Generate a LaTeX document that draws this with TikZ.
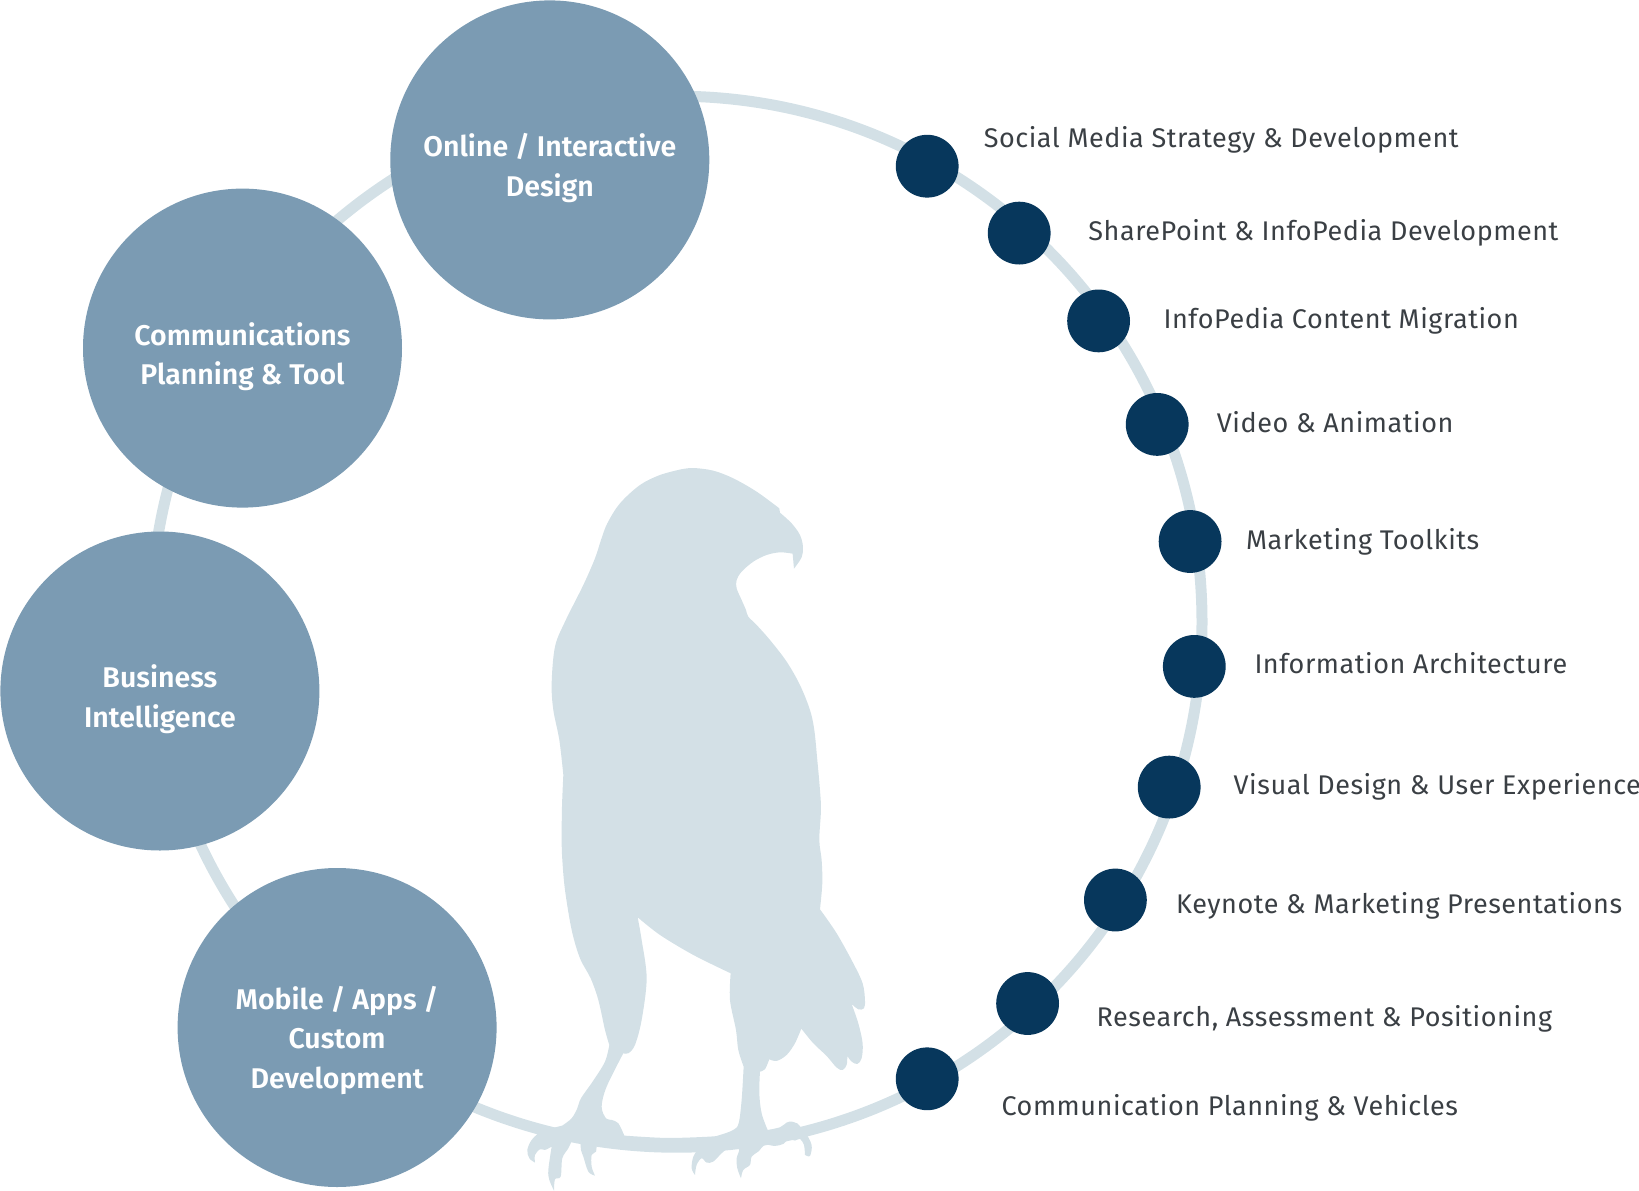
\documentclass[tikz,border=0pt]{standalone}
\usepackage{fontspec}
\setmainfont{Fira Sans}
\newfontfamily\listfont[LetterSpace=2]{Fira Sans}
\newfontfamily\headfont{Fira Sans SemiBold}
\definecolor{ringc}{HTML}{D3E0E6}
\definecolor{bigc}{HTML}{7B9BB3}
\definecolor{dotc}{HTML}{07375C}
\definecolor{textc}{HTML}{3A3F44}
\tikzset{
  bigcirc/.style={circle,fill=bigc,minimum size=319pt,inner sep=0pt},
  dotn/.style={circle,fill=dotc,minimum size=62.8pt,inner sep=0pt},
  ringn/.style={circle,draw=ringc,line width=11pt,minimum size=1051pt,inner sep=0pt},
  biglabel/.style={text=white,align=center,font=\fontsize{28.5}{39.7}\selectfont\headfont},
  listlabel/.style={text=textc,anchor=base west,inner sep=0pt,font=\fontsize{27}{32}\selectfont\listfont}
}
\begin{document}
\begin{tikzpicture}[x=1pt,y=-1pt]
\useasboundingbox (0,0) rectangle (1639,1191);
\node[ringn] (ring) at (676.5,621.7) {};
% bird
\begin{scope}[shift={(500,440)},x=0.3333pt,y=-0.3333pt]
\fill[ringc,even odd rule]
  plot[smooth,tension=0.55] coordinates {(543,88)(580,84)(640,92)(700,115)(770,155)(838,205)}
  -- (840,218)
  -- plot[smooth,tension=0.55] coordinates {(840,218)(875,250)(900,285)(909,320)(905,352)(882,386)}
  -- (878,341)
  -- plot[smooth,tension=0.55] coordinates {(878,341)(840,337)(800,345)(760,365)(725,395)(710,420)(710,445)(725,480)(738,510)(745,530)(770,555)(810,600)(860,665)(900,735)(930,810)(943,870)(952,960)(960,1050)(963,1110)(958,1200)(965,1260)(967,1330)(960,1408)}
  -- plot[smooth,tension=0.55] coordinates {(960,1408)(1010,1480)(1060,1570)(1088,1630)(1095,1680)(1092,1705)(1075,1708)(1055,1692)}
  -- plot[smooth,tension=0.55] coordinates {(1055,1692)(1075,1750)(1088,1810)(1085,1855)(1072,1872)(1055,1865)(1042,1848)}
  -- plot[smooth,tension=0.55] coordinates {(1042,1848)(1040,1875)(1028,1890)(1010,1883)(980,1848)(940,1810)(904,1766)}
  -- plot[smooth,tension=0.55] coordinates {(904,1766)(885,1810)(860,1845)(830,1863)(808,1858)}
  -- plot[smooth,tension=0.55] coordinates {(808,1858)(795,1888)(780,1895)}
  -- plot[smooth,tension=0.55] coordinates {(780,1895)(778,1960)(785,2020)(803,2070)}
  -- plot[smooth,tension=0.55] coordinates {(803,2070)(840,2062)(860,2048)(875,2045)(893,2051)}
  -- (917,2078)
  -- plot[smooth,tension=0.55] coordinates {(917,2078)(935,2115)(930,2148)(915,2145)}
  -- plot[smooth,tension=0.55] coordinates {(915,2145)(912,2115)(900,2097)(885,2102)(865,2098)(850,2112)(825,2118)(795,2115)(775,2135)(755,2150)(750,2175)(730,2190)(723,2215)}
  -- plot[smooth,tension=0.55] coordinates {(723,2215)(712,2185)(710,2155)(717,2128)(690,2122)(665,2140)(640,2165)(620,2168)(605,2155)(590,2175)(585,2205)}
  -- plot[smooth,tension=0.55] coordinates {(585,2205)(575,2185)(580,2150)(597,2125)}
  -- plot[smooth,tension=0.55] coordinates {(597,2125)(500,2127)(400,2120)(290,2108)}
  -- plot[smooth,tension=0.55] coordinates {(290,2108)(288,2135)(275,2145)(275,2180)(285,2207)}
  -- plot[smooth,tension=0.55] coordinates {(285,2207)(265,2195)(250,2150)(243,2130)(241,2100)}
  -- (218,2097)
  -- plot[smooth,tension=0.55] coordinates {(218,2097)(205,2125)(187,2155)(182,2210)(165,2218)(162,2252)}
  -- plot[smooth,tension=0.55] coordinates {(162,2252)(148,2220)(145,2190)(155,2120)}
  -- plot[smooth,tension=0.55] coordinates {(155,2120)(135,2130)(120,2128)(105,2145)(105,2168)}
  -- plot[smooth,tension=0.55] coordinates {(105,2168)(88,2155)(82,2130)(95,2100)(122,2073)}
  -- (187,2057)
  -- plot[smooth,tension=0.55] coordinates {(187,2057)(215,2035)(232,2005)(243,1975)(280,1922)(315,1865)(328,1815)}
  -- plot[smooth,tension=0.55] coordinates {(328,1815)(315,1770)(295,1680)(272,1615)(240,1555)(215,1470)(195,1350)(187,1260)(185,1200)(186,1100)(190,1005)}
  -- plot[smooth,tension=0.55] coordinates {(190,1005)(178,900)(160,810)(155,730)(165,620)(195,545)(250,435)(285,355)(303,300)(322,250)(360,190)(420,135)(480,105)(543,88)}
  -- cycle
  (413,1432)
  -- plot[smooth,tension=0.55] coordinates {(413,1432)(480,1485)(580,1545)(692,1600)}
  -- plot[smooth,tension=0.55] coordinates {(692,1600)(690,1680)(708,1770)(715,1830)(731,1880)}
  -- plot[smooth,tension=0.55] coordinates {(731,1880)(725,1980)(716,2050)(700,2070)(660,2085)(630,2090)(500,2094)(373,2087)}
  -- plot[smooth,tension=0.55] coordinates {(373,2087)(355,2050)(335,2040)(318,2035)(305,2000)(320,1940)(370,1840)}
  -- plot[smooth,tension=0.55] coordinates {(370,1840)(385,1840)(405,1815)(425,1740)(440,1615)(425,1500)(413,1432)}
  -- cycle;
\end{scope}
% big circles
\node[bigcirc] (online) at (549.8,159.9) {};
\node[bigcirc] (comm) at (242.5,348.1) {};
\node[bigcirc] (bi) at (159.9,691) {};
\node[bigcirc] (mobile) at (337.1,1027.5) {};
\node[biglabel] (onlinel) at ([yshift=-8pt]online.center) {Online / Interactive\\Design};
\node[biglabel] (comml) at ([yshift=-8.5pt]comm.center) {Communications\\Planning \& Tool};
\node[biglabel] (bil) at ([yshift=-8.5pt]bi.center) {Business\\Intelligence};
\node[biglabel] (mobilel) at ([yshift=-13pt]mobile.center) {Mobile / Apps /\\Custom\\Development};
% dots
\node[dotn] (d1) at (927.2,166.2) {};
\node[dotn] (d2) at (1019.2,233.1) {};
\node[dotn] (d3) at (1098.6,320.9) {};
\node[dotn] (d4) at (1157.2,424.4) {};
\node[dotn] (d5) at (1190.1,541.5) {};
\node[dotn] (d6) at (1194.3,666.4) {};
\node[dotn] (d7) at (1169.2,787.1) {};
\node[dotn] (d8) at (1115.4,900) {};
\node[dotn] (d9) at (1027.6,1003.5) {};
\node[dotn] (d10) at (927.2,1078.8) {};
% labels
\node[listlabel] (l1) at (983.6,147.5) {Social Media Strategy \& Development};
\node[listlabel] (l2) at (1088.2,240.5) {SharePoint \& InfoPedia Development};
\node[listlabel] (l3) at (1163.4,328.5) {InfoPedia Content Migration};
\node[listlabel] (l4) at (1216.7,432.2) {Video \& Animation};
\node[listlabel] (l5) at (1246,549.2) {Marketing Toolkits};
\node[listlabel] (l6) at (1254.3,673.6) {Information Architecture};
\node[listlabel] (l7) at (1233.5,794.5) {Visual Design \& User Experience};
\node[listlabel] (l8) at (1176,913.7) {Keynote \& Marketing Presentations};
\node[listlabel] (l9) at (1096.5,1026.6) {Research, Assessment \& Positioning};
\node[listlabel] (l10) at (1001.4,1115.5) {Communication Planning \& Vehicles};
\end{tikzpicture}
\end{document}
